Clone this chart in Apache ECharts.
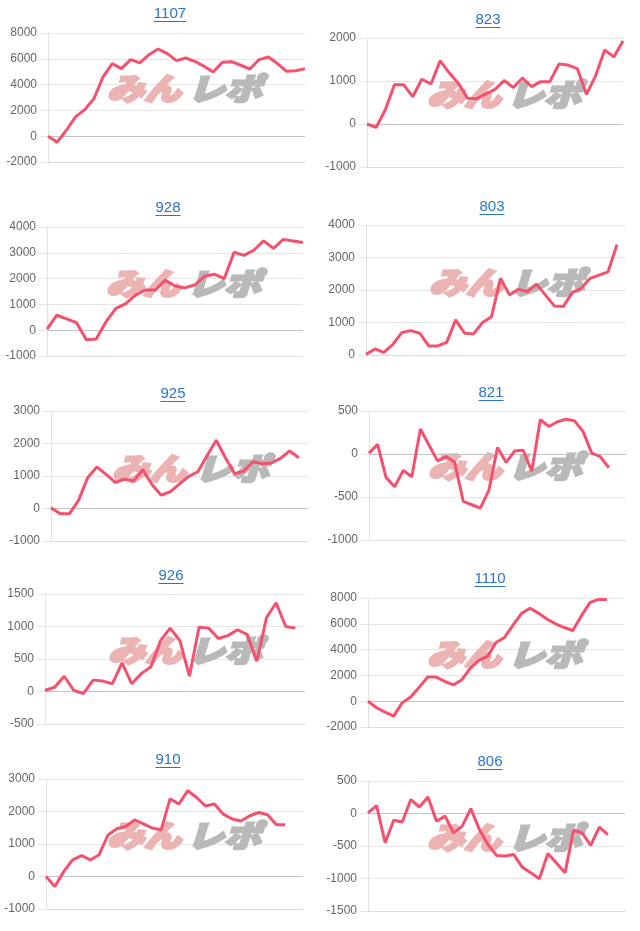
<!DOCTYPE html>
<html><head><meta charset="utf-8">
<script src="https://cdn.jsdelivr.net/npm/echarts@6/dist/echarts.min.js"></script>
<style>html,body{margin:0;padding:0;background:#fff;}#c{width:640px;height:931px;}</style>
</head><body><div id="c"></div>
<script>
// ---- data ----
const titles = ['1107','823','928','803','925','821','926','1110','910','806'];
const labelCounts = [29,29,27,30,29,31,28,31,30,31];
const s1107 = [0,-460,460,1500,2060,2900,4600,5630,5240,5940,5680,6320,6760,6400,5860,6060,5800,5420,4980,5730,5780,5500,5210,5940,6140,5630,5030,5080,5240];
const s823  = [0,-80,330,915,915,635,1040,930,1470,1190,945,600,590,700,806,1010,850,1070,870,985,985,1395,1370,1290,690,1120,1720,1560,1930];
const s928  = [40,580,440,290,-370,-340,330,850,1030,1360,1560,1560,1940,1710,1640,1750,2090,2170,2000,3020,2900,3100,3460,3170,3520,3460,3400];
const s803  = [20,185,80,330,690,750,670,280,280,390,1080,670,650,1000,1180,2360,1850,2020,1950,2180,1850,1510,1490,1920,2050,2360,2460,2560,3400];
const s925  = [20,-165,-165,250,950,1280,1050,800,900,845,1190,740,410,515,760,990,1130,1620,2100,1560,1070,1150,1440,1380,1400,1540,1770,1560];
const s821  = [10,112,-275,-380,-190,-264,290,105,-80,-30,-97,-550,-590,-630,-420,75,-97,35,43,-200,400,320,375,405,385,260,10,-30,-160];
const s926  = [15,65,235,15,-30,175,160,120,440,120,275,380,785,975,785,235,990,975,815,860,950,875,465,1135,1365,1000,975];
const s1110 = [0,-510,-850,-1160,-130,330,1080,1870,1870,1540,1260,1670,2570,3160,3470,4550,4940,5890,6810,7200,6810,6350,5990,5710,5480,6610,7640,7890,7890];
const s910  = [0,-310,150,510,640,510,670,1280,1470,1540,1740,1620,1490,1440,2390,2230,2640,2430,2170,2230,1920,1770,1710,1870,1970,1900,1590,1590];
const s806  = [10,120,-450,-105,-130,215,100,255,-120,-40,-300,-195,75,-245,-475,-645,-655,-630,-825,-910,-1005,-615,-760,-910,-260,-300,-490,-210,-325];
const seriesData = [s1107,s823,s928,s803,s925,s821,s926,s1110,s910,s806];
const yMin  = [-2000,-1000,-1000,0,-1000,-1000,-500,-2000,-1000,-1500];
const yMax  = [8000,2000,4000,4000,3000,500,1500,8000,3000,500];
const yStep = [2000,1000,1000,1000,1000,500,500,2000,1000,500];

// ---- layout (pixels) ----
const layout = [
 {g:[48,33,257,129],  t:[170,14],  m:[107,188,88]},
 {g:[367,38,256,129], t:[488,20],  m:[427,507,94]},
 {g:[47,227,256,129], t:[168,208], m:[106,187,283]},
 {g:[366,225,260,130],t:[492,207], m:[429,510,282]},
 {g:[51,411,257,130], t:[173,394], m:[112,195,468]},
 {g:[369,411,257,129],t:[491,393], m:[428,508,466]},
 {g:[45,594,260,130], t:[171,576], m:[108,188,650]},
 {g:[368,598,256,129],t:[490,579], m:[427,508,654]},
 {g:[46,779,257,130], t:[168,760], m:[107,187,835]},
 {g:[368,781,257,130],t:[490,762], m:[427,508,837]}
];

const LINE = '#f4516e';
const GRID = '#e6e6e6';
const TITLE = '#2a74c8';
const tfont = '"Liberation Sans", Arial, sans-serif';
const mctx = document.createElement('canvas').getContext('2d');
mctx.font = '15px "Liberation Sans"';

const grids=[], xAxes=[], yAxes=[], series=[], graphics=[];
layout.forEach((l,i)=>{
  grids.push({left:l.g[0], top:l.g[1], width:l.g[2], height:l.g[3]});
  const cats = Array.from({length:labelCounts[i]}, (_,k)=>String(k+1));
  xAxes.push({gridIndex:i, type:'category', data:cats, boundaryGap:false,
    axisLabel:{show:false}, axisTick:{show:false}, splitLine:{show:false},
    axisLine:{show:true, onZero:false, lineStyle:{color:'#dcdcdc', width:1}}});
  yAxes.push({gridIndex:i, type:'value', min:yMin[i], max:yMax[i], interval:yStep[i],
    axisLine:{show:true, lineStyle:{color:'#e2e2e2'}},
    axisTick:{show:true, length:8, lineStyle:{color:GRID}},
    axisLabel:{color:'#666', fontSize:12, fontFamily:tfont, margin:11, formatter:v=>String(v)},
    splitLine:{show:true, lineStyle:{color:GRID, width:1}}});
  const s = {type:'line', xAxisIndex:i, yAxisIndex:i, data:seriesData[i],
    symbol:'none', showSymbol:false, z:3,
    lineStyle:{color:LINE, width:3}, itemStyle:{color:LINE}};
  if (yMin[i] < 0) {
    s.markLine = {silent:true, symbol:'none', z:1, animation:false,
      label:{show:false}, lineStyle:{color:'#c4c4c4', type:'solid', width:1},
      data:[{yAxis:0}]};
  }
  series.push(s);
  // title + underline
  const w = mctx.measureText(titles[i]).width;
  graphics.push({type:'text', x:l.t[0], y:l.t[1], z:5,
    style:{text:titles[i], fill:TITLE, fontSize:15, fontFamily:tfont, align:'center', verticalAlign:'middle'}});
  graphics.push({type:'rect', z:5, shape:{x:l.t[0]-w/2, y:l.t[1]+7, width:w, height:1}, style:{fill:TITLE}});
  // watermark
  graphics.push({type:'text', x:l.m[0], y:l.m[2], z:1, scaleY:0.82,
    style:{text:'みん', fill:'#ecb3b3', stroke:'#ecb3b3', lineWidth:3, fontSize:37, fontWeight:900, fontStyle:'italic',
      fontFamily:'"Noto Sans CJK JP"', align:'left', verticalAlign:'middle'}});
  graphics.push({type:'text', x:l.m[1], y:l.m[2], z:1, scaleY:0.82,
    style:{text:'レポ', fill:'#b9b9b9', stroke:'#b9b9b9', lineWidth:3, fontSize:37, fontWeight:900, fontStyle:'italic',
      fontFamily:'"Noto Sans CJK JP"', align:'left', verticalAlign:'middle'}});
});

const chart = echarts.init(document.getElementById('c'), null, {renderer:'canvas'});
chart.setOption({
  animation:false,
  backgroundColor:'#fff',
  grid:grids, xAxis:xAxes, yAxis:yAxes, series:series,
  graphic:{elements:graphics}
});
</script></body></html>
